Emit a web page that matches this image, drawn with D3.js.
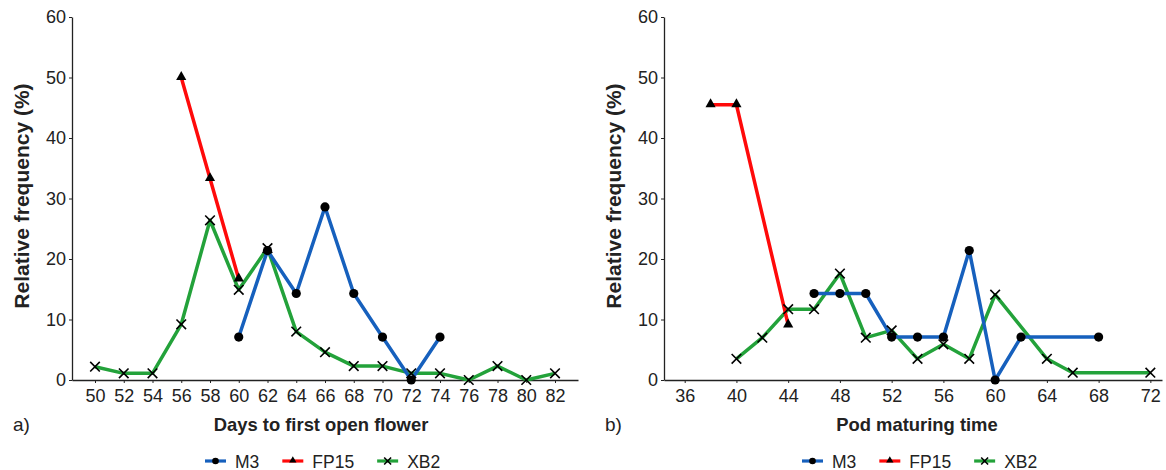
<!DOCTYPE html>
<html>
<head>
<meta charset="utf-8">
<script src="https://cdn.jsdelivr.net/npm/d3@7"></script>
<style>
  body { margin: 0; background: #fff; }
  text { font-family: "Liberation Sans", Arial, sans-serif; fill: #222; }
  .axis path, .axis line { stroke: #222; }
</style>
</head>
<body>
<div id="chart"></div>
<script>
// panel a) days to first open flower
const daysTicks = [50, 52, 54, 56, 58, 60, 62, 64, 66, 68, 70, 72, 74, 76, 78, 80, 82];
const daysM3 = [[60, 7.1], [62, 21.4], [64, 14.3], [66, 28.6], [68, 14.3], [70, 7.1], [72, 0], [74, 7.1]];
const daysFP15 = [[56, 50], [58, 33.3], [60, 16.7]];
const daysXB2 = [[50, 2.2], [52, 1.1], [54, 1.1], [56, 9.2], [58, 26.4], [60, 14.9], [62, 21.8], [64, 8.0],
  [66, 4.6], [68, 2.3], [70, 2.3], [72, 1.1], [74, 1.1], [76, 0], [78, 2.3], [80, 0], [82, 1.1]];

// panel b) pod maturing time
const podTicks = [36, 40, 44, 48, 52, 56, 60, 64, 68, 72];
const podM3 = [[46, 14.3], [48, 14.3], [50, 14.3], [52, 7.1], [54, 7.1], [56, 7.1], [58, 21.4], [60, 0], [62, 7.1], [68, 7.1]];
const podFP15 = [[38, 45.5], [40, 45.5], [44, 9.1]];
const podXB2 = [[40, 3.5], [42, 7.0], [44, 11.7], [46, 11.7], [48, 17.6], [50, 7.0], [52, 8.2], [54, 3.5],
  [56, 5.9], [58, 3.5], [60, 14.1], [64, 3.5], [66, 1.2], [72, 1.2]];

const yTicks = [0, 10, 20, 30, 40, 50, 60];
const seriesNames = ['M3', 'FP15', 'XB2'];
const colors = {M3: '#1660bd', FP15: '#ff0a0a', XB2: '#23a23a'};
const shapes = {M3: 'circle', FP15: 'triangle', XB2: 'cross'};

const svg = d3.select('#chart').append('svg').attr('width', 1166).attr('height', 470);

function marker(g, kind, x, y, k) {
  k = k || 1;
  if (kind === 'circle') {
    g.append('circle').attr('cx', x).attr('cy', y).attr('r', 4.6 * k).attr('fill', '#000');
  } else if (kind === 'triangle') {
    g.append('path').attr('d', d3.symbol().type(d3.symbolTriangle).size(45 * k * k)())
      .attr('transform', 'translate(' + x + ',' + (y - 0.5) + ')').attr('fill', '#000');
  } else {
    const s = 4.8 * k;
    g.append('path').attr('d', 'M' + (x - s) + ',' + (y - s) + 'L' + (x + s) + ',' + (y + s) +
      'M' + (x - s) + ',' + (y + s) + 'L' + (x + s) + ',' + (y - s))
      .attr('stroke', '#000').attr('stroke-width', 1.6).attr('fill', 'none');
  }
}

function panel(opt) {
  const x = d3.scaleLinear().domain(opt.xDomain).range([opt.left, opt.right]);
  const y = d3.scaleLinear().domain([0, 60]).range([380, 17]);

  svg.append('g').attr('class', 'axis').attr('transform', 'translate(0,380)')
    .call(d3.axisBottom(x).tickValues(opt.ticks).tickSize(3).tickSizeOuter(0).tickPadding(6))
    .call(g => g.select('.domain').attr('stroke-width', 1.3))
    .selectAll('text').attr('font-size', 18).attr('fill', '#222');

  svg.append('g').attr('class', 'axis').attr('transform', 'translate(' + opt.left + ',0)')
    .call(d3.axisLeft(y).tickValues(yTicks).tickSize(3).tickSizeOuter(0).tickPadding(3))
    .call(g => g.select('.domain').attr('stroke-width', 1.3))
    .selectAll('text').attr('font-size', 18).attr('fill', '#222');

  const line = d3.line().x(d => x(d[0])).y(d => y(d[1]));
  const order = ['XB2', 'M3', 'FP15'];
  order.forEach(name => {
    svg.append('path').attr('d', line(opt.data[name])).attr('fill', 'none')
      .attr('stroke', colors[name]).attr('stroke-width', 3.5).attr('stroke-linejoin', 'round');
  });
  order.forEach(name => {
    const g = svg.append('g');
    opt.data[name].forEach(d => marker(g, shapes[name], x(d[0]), y(d[1])));
  });

  svg.append('text').attr('transform', 'translate(' + (opt.left - 43) + ',196) rotate(-90)')
    .attr('text-anchor', 'middle').attr('font-size', 21).attr('font-weight', 'bold')
    .text('Relative frequency (%)');
  svg.append('text').attr('x', opt.titleX).attr('y', 431).attr('text-anchor', 'middle')
    .attr('font-size', 18.4).attr('font-weight', 'bold').text(opt.title);
  svg.append('text').attr('x', opt.left - 59).attr('y', 431).attr('font-size', 19).text(opt.tag);

  // legend
  const leg = svg.append('g').attr('transform', 'translate(' + opt.legendX + ',461)');
  let gx = 0;
  seriesNames.forEach(name => {
    leg.append('line').attr('x1', gx).attr('x2', gx + 21).attr('y1', 0).attr('y2', 0)
      .attr('stroke', colors[name]).attr('stroke-width', 3.2);
    marker(leg, shapes[name], gx + 10.5, 0, 0.72);
    const t = leg.append('text').attr('x', gx + 30).attr('y', 6.5).attr('font-size', 17.5).text(name);
    gx += 30 + t.node().getComputedTextLength() + 23;
  });
}

panel({
  left: 72, right: 578, xDomain: [48.4, 83.6], ticks: daysTicks,
  data: {M3: daysM3, FP15: daysFP15, XB2: daysXB2},
  title: 'Days to first open flower', titleX: 321, tag: 'a)', legendX: 205
});
panel({
  left: 664, right: 1162, xDomain: [34.4, 72.9], ticks: podTicks,
  data: {M3: podM3, FP15: podFP15, XB2: podXB2},
  title: 'Pod maturing time', titleX: 917, tag: 'b)', legendX: 802
});
</script>
</body>
</html>
